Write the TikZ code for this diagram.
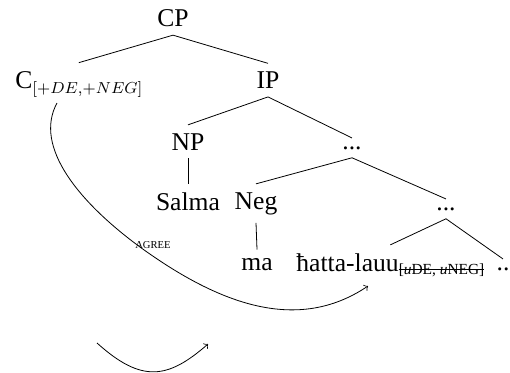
\documentclass[tikz,border=0pt]{standalone}
\usepackage{fontspec}
\setmainfont{Liberation Serif}
\newsavebox\strkbox
\newcommand\strk[1]{\sbox\strkbox{#1}\rlap{\rule[0.3em]{\wd\strkbox}{0.4pt}}\usebox\strkbox}
\begin{document}
\begin{tikzpicture}[x=0.5bp, y=-0.5bp,
	lbl/.style={anchor=base, inner sep=4bp, font=\fontsize{12.8bp}{15bp}\selectfont},
	branch/.style={line width=0.4pt},
	agr/.style={line width=0.4pt, ->}]
			%%%%% START %%%%%
			\useasboundingbox (0, 0) rectangle (510, 372);
			
			\node[lbl] (cp) at (173, 26.5) {CP};
			\node[lbl, anchor=base west] (c) at (7, 88) {C\raisebox{-2.5bp}{\fontsize{8bp}{9bp}\selectfont$[{+}DE{,}{+}NEG]$}};
			\node[lbl] (ip) at (268, 88.5) {IP};
			
			\node[lbl] (np) at (188, 150) {NP};
			\node[lbl] (dots1) at (352, 149) {...};
			
			\node[lbl] (salma) at (188, 210) {Salma};
			\node[lbl] (neg) at (256, 209) {Neg};
			\node[lbl] (dots2) at (446, 210) {...};
			
			\node[lbl] (ma) at (257, 270) {ma};
			\node[lbl, anchor=base west] (hatta) at (288, 271) {ħatta-lauu\raisebox{-1.5bp}{\fontsize{7.7bp}{9bp}\selectfont\strk{[\textit{u}DE, \textit{u}NEG]}}};
			\node[lbl] (dd) at (503, 270) {..};
			
			\draw[branch] (cp.south) -- (c.north);
			\draw[branch] (cp.south) -- (ip.north);
			\draw[branch] (ip.south) -- (np.north);
			\draw[branch] (ip.south) -- (dots1.north);
			\draw[branch] (np.south) -- (salma.north);
			\draw[branch] (dots1.south) -- (neg.north);
			\draw[branch] (dots1.south) -- (dots2.north);
			\draw[branch] (neg.south) -- (ma.north);
			\draw[branch] (dots2.south) -- (hatta.north);
			\draw[branch] (dots2.south) -- (dd.north);
			
			% agree arc from C down to the verb
			\coordinate (agr-s) at (57, 103);
			\coordinate (agr-m) at (140, 247);
			\coordinate (agr-e) at (368, 286);
			\draw[agr] (agr-s) .. controls (33, 147) and (80, 203) .. (agr-m)
				.. controls (220, 305) and (298, 333) .. (agr-e);
			\node[font=\fontsize{5.3bp}{6bp}\selectfont, inner sep=0pt] (agree) at (153, 245) {AGREE};
			
			\coordinate (sm-s) at (97, 343);
			\coordinate (sm-e) at (208, 344);
			\draw[agr] (sm-s) .. controls (142, 383.5) and (168, 378.8) .. (sm-e);
			
			%%%%% END %%%%%
		\end{tikzpicture}
\end{document}
